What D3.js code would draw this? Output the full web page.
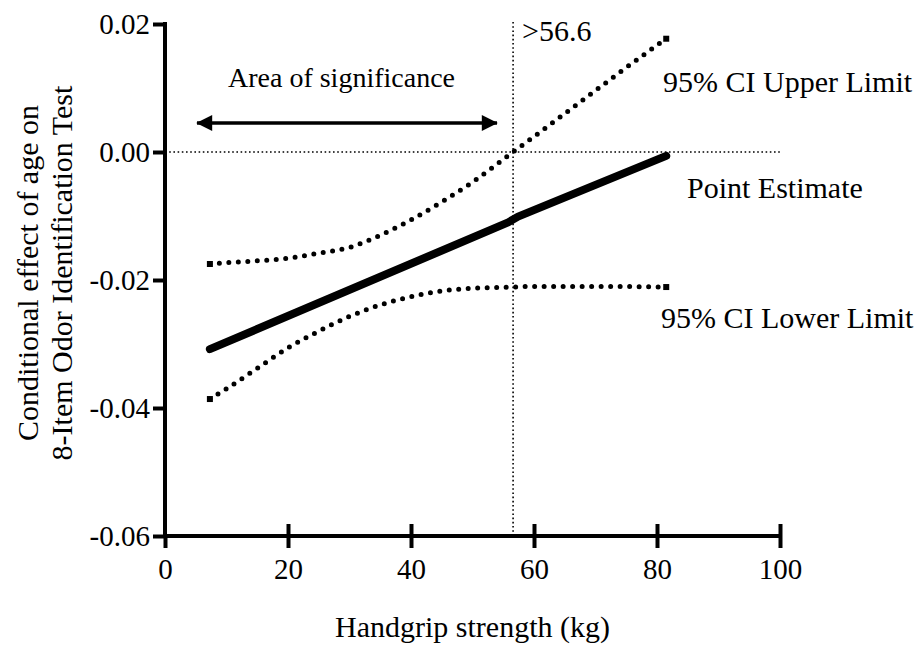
<!DOCTYPE html>
<html>
<head>
<meta charset="utf-8">
<script src="https://cdn.jsdelivr.net/npm/d3@7"></script>
<style>
  html, body { margin: 0; padding: 0; background: #fff; }
  svg { display: block; }
  text { font-family: "Liberation Serif", "Times New Roman", serif; fill: #000; }
</style>
</head>
<body>
<svg id="chart" width="922" height="646"></svg>
<script>
// ---- data ----
const estX = [7.3, 55.8, 57.4, 81.5];
const estY = [-0.0308, -0.0110, -0.0101, -0.0006];

const upperX = [7.3, 10, 15, 20, 25, 30, 35, 40, 45, 50, 56.6, 60, 65, 70, 75, 81.5];
const upperY = [-0.0175, -0.0173, -0.0170, -0.0166, -0.0158, -0.0149, -0.0130, -0.0106, -0.0078, -0.0047, 0.0, 0.0024, 0.0060, 0.0096, 0.0132, 0.0177];

const lowerX = [7.3, 10, 15, 20, 25, 30, 35, 40, 45, 50, 56.6, 60, 70, 81.5];
const lowerY = [-0.0386, -0.0370, -0.0338, -0.0306, -0.0280, -0.0257, -0.0239, -0.0226, -0.0217, -0.0213, -0.0211, -0.0210, -0.0210, -0.0211];

const xTicks = [0, 20, 40, 60, 80, 100];
const yTicks = [0.02, 0.00, -0.02, -0.04, -0.06];
const yTickLabels = ["0.02", "0.00", "-0.02", "-0.04", "-0.06"];
const cutoff = 56.6;
const cutoffLabel = ">56.6";
const seriesLabels = ["95% CI Upper Limit", "Point Estimate", "95% CI Lower Limit"];
const xTitle = "Handgrip strength (kg)";
const yTitle = ["Conditional effect of age on", "8-Item Odor Identification Test"];
const areaLabel = "Area of significance";

const FONT = '"Liberation Serif", "Times New Roman", serif';

// ---- scales ----
const svg = d3.select("#chart");
const x = d3.scaleLinear().domain([0, 100]).range([165, 780]);
const y = d3.scaleLinear().domain([-0.06, 0.02]).range([536, 24]);

// arrow markers
const defs = svg.append("defs");
["start", "end"].forEach(k => {
  defs.append("marker")
    .attr("id", "arrow-" + k)
    .attr("viewBox", "0 0 10 10")
    .attr("refX", 9.5).attr("refY", 5)
    .attr("markerUnits", "userSpaceOnUse")
    .attr("markerWidth", 19).attr("markerHeight", 16)
    .attr("orient", k === "end" ? "auto" : "auto-start-reverse")
    .append("path").attr("d", "M0,0 L10,5 L0,10 Z").attr("fill", "#000");
});

// reference dotted lines
svg.append("line")
  .attr("x1", x(0)).attr("x2", x(100))
  .attr("y1", y(0)).attr("y2", y(0))
  .attr("stroke", "#000").attr("stroke-width", 1.6)
  .attr("stroke-dasharray", "1.6 2.6");
svg.append("line")
  .attr("x1", x(cutoff)).attr("x2", x(cutoff))
  .attr("y1", 22).attr("y2", y(-0.06))
  .attr("stroke", "#000").attr("stroke-width", 1.6)
  .attr("stroke-dasharray", "1.6 2.6");

// ---- axes ----
const xAxis = svg.append("g")
  .attr("transform", `translate(0,${y(-0.06)})`)
  .call(d3.axisBottom(x).tickValues(xTicks).tickSize(12).tickPadding(10).tickFormat(d3.format("d")))
  .attr("font-family", FONT);
xAxis.select(".domain").attr("d", `M${x(0) - 2},0H${x(100) + 2}`).attr("stroke-width", 4);
xAxis.selectAll(".tick line").attr("stroke-width", 4)
  .attr("y1", d => d === 0 ? 0 : -12).attr("y2", 12);
xAxis.selectAll(".tick text").attr("font-size", 29).attr("dy", "0.71em").style("font-family", FONT);

const yAxis = svg.append("g")
  .attr("transform", `translate(${x(0)},0)`)
  .call(d3.axisLeft(y).tickValues(yTicks).tickSize(12).tickPadding(3)
    .tickFormat((d, i) => yTickLabels[i]))
  .attr("font-family", FONT);
yAxis.select(".domain").attr("d", `M0,${y(0.02) - 2}V${y(-0.06) + 2}`).attr("stroke-width", 4);
yAxis.selectAll(".tick line").attr("stroke-width", 4);
yAxis.selectAll(".tick text").attr("font-size", 29).style("font-family", FONT);

// ---- series ----
const line = d3.line().x(d => x(d[0])).y(d => y(d[1])).curve(d3.curveMonotoneX);
const upper = upperX.map((v, i) => [v, upperY[i]]);
const lower = lowerX.map((v, i) => [v, lowerY[i]]);
const est = estX.map((v, i) => [v, estY[i]]);

[upper, lower].forEach(s => {
  svg.append("path").datum(s).attr("d", line)
    .attr("fill", "none").attr("stroke", "#000").attr("stroke-width", 5)
    .attr("stroke-linecap", "round").attr("stroke-dasharray", "0 9.5");
  [s[0], s[s.length - 1]].forEach(p => {
    svg.append("rect").attr("x", x(p[0]) - 3).attr("y", y(p[1]) - 3)
      .attr("width", 6).attr("height", 6).attr("fill", "#000");
  });
});

svg.append("path").datum(est)
  .attr("d", d3.line().x(d => x(d[0])).y(d => y(d[1])))
  .attr("fill", "none").attr("stroke", "#000").attr("stroke-width", 8)
  .attr("stroke-linecap", "round").attr("stroke-linejoin", "round");

// ---- annotations ----
svg.append("text").attr("x", 522).attr("y", 41).attr("font-size", 30)
  .style("font-family", FONT).text(cutoffLabel);

svg.append("text").attr("x", 341.5).attr("y", 87).attr("text-anchor", "middle")
  .attr("font-size", 28).style("font-family", FONT).text(areaLabel);

svg.append("line")
  .attr("x1", 197).attr("x2", 497).attr("y1", 123).attr("y2", 123)
  .attr("stroke", "#000").attr("stroke-width", 3.5)
  .attr("marker-start", "url(#arrow-start)").attr("marker-end", "url(#arrow-end)");

const labelPos = [[663, 92], [687, 198], [661, 328]];
seriesLabels.forEach((t, i) => {
  svg.append("text").attr("x", labelPos[i][0]).attr("y", labelPos[i][1])
    .attr("font-size", 30).style("font-family", FONT).text(t);
});

// axis titles
svg.append("text").attr("x", (x(0) + x(100)) / 2).attr("y", 637)
  .attr("text-anchor", "middle").attr("font-size", 30).style("font-family", FONT).text(xTitle);

const yt = svg.append("text").attr("transform", "translate(38,273) rotate(-90)")
  .attr("text-anchor", "middle").attr("font-size", 30).style("font-family", FONT);
yt.append("tspan").attr("x", 0).attr("y", 0).text(yTitle[0]);
yt.append("tspan").attr("x", 0).attr("y", 34).text(yTitle[1]);
</script>
</body>
</html>
